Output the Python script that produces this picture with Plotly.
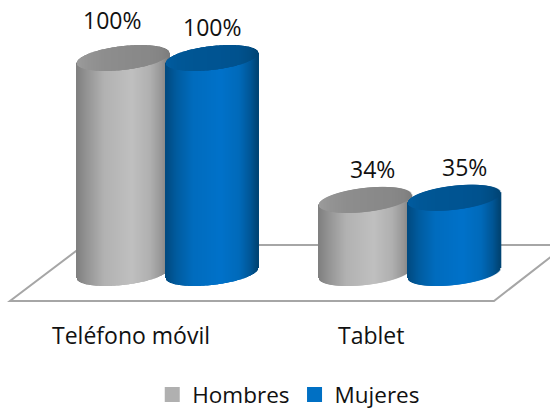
import numpy as np
import plotly.graph_objects as go

categories = ["Teléfono móvil", "Tablet"]
series_names = ["Hombres", "Mujeres"]
hombres = [100, 34]
mujeres = [100, 35]
value_labels = {"Hombres": ["100%", "34%"], "Mujeres": ["100%", "35%"]}

W, H = 550, 410
PX_X = 242.5        # pixels per category
PX_Y = 2.15         # pixels per percent
X0_PX, Y0_PX = 167.5, 273

def dx(px):
    return px / PX_X

def dy(px):
    return px / PX_Y

def xd(px):
    return (px - X0_PX) / PX_X

def yd(px):
    return (Y0_PX - px) / PX_Y

HALF = 46
OFFSET = {"Hombres": -44.5, "Mujeres": 44.5}
EB = 12.0    # ellipse minor semi-axis, px
TILT = 5.0   # rise of the ellipse's right end, px
STOPS = [-1, -0.75, -0.4, 0.2, 0.6, 0.85, 1]
BODY = {
    "Hombres": [(128, 128, 128), (150, 150, 150), (178, 178, 178), (192, 192, 192),
                (176, 176, 176), (150, 150, 150), (125, 125, 125)],
    "Mujeres": [(0, 74, 128), (0, 92, 160), (0, 108, 190), (0, 114, 202),
                (0, 106, 186), (0, 86, 150), (0, 68, 116)],
}
TOP = {
    "Hombres": [(156, 156, 156), (148, 148, 148), (142, 142, 142), (138, 138, 138),
                (136, 136, 136), (132, 132, 132), (126, 126, 126)],
    "Mujeres": [(0, 92, 160), (0, 88, 152), (0, 86, 148), (0, 84, 146),
                (0, 82, 142), (0, 76, 130), (0, 68, 116)],
}

def ramp(stops, u):
    a = np.array(stops, float)
    rgb = [np.interp(u, STOPS, a[:, i]) for i in range(3)]
    return [f"rgb({int(r)},{int(g)},{int(b)})" for r, g, b in zip(*rgb)]

u = np.linspace(-1, 1, 2 * HALF + 1)
arc = np.sqrt(np.clip(1 - u ** 2, 0, 1))
tilt = TILT * u

fig = go.Figure()
for name, values in zip(series_names, [hombres, mujeres]):
    for i, v in enumerate(values):
        cx = i + dx(OFFSET[name]) + dx(HALF) * u
        # body: bottom ellipse lower arc up to top ellipse lower arc
        base = dy(tilt - EB * arc)
        top_low = v + dy(tilt - EB * arc)
        top_high = v + dy(tilt + EB * arc)
        fig.add_bar(x=cx, y=top_low - base + dy(0.6), base=base, width=dx(1.6),
                    marker=dict(color=ramp(BODY[name], u), line_width=0),
                    showlegend=False, hoverinfo="skip")
        fig.add_bar(x=cx, y=top_high - top_low, base=top_low, width=dx(1.6),
                    marker=dict(color=ramp(TOP[name], u), line_width=0),
                    showlegend=False, hoverinfo="skip")

# legend entries
for name, col in zip(series_names, ["#b0b0b0", "#0070c4"]):
    fig.add_scatter(x=[None], y=[None], mode="markers", name=name,
                    marker=dict(symbol="square", size=15, color=col))

LABEL_SHIFT = {"Hombres": [(-55.5, 37), (-39.5, 31), ], "Mujeres": [(44.5, 31), (54, 31)]}
LABEL_SHIFT["Hombres"] = [(-55.5, 38), (-38, 31)]
for name, values in zip(series_names, [hombres, mujeres]):
    for i, v in enumerate(values):
        sx, sy = LABEL_SHIFT[name][i]
        fig.add_annotation(x=i + dx(sx), y=v + dy(sy), text=value_labels[name][i],
                           showarrow=False, font=dict(size=23, color="#111111"))

for i, c in enumerate(categories):
    fig.add_annotation(x=i + dx([-36.5, -39][i]), y=yd(335), text=c, showarrow=False,
                       font=dict(size=23, color="#111111"))

# floor of the 3D chart
floor = [(10, 301), (494, 301), (566, 245), (84, 245)]
path = "M " + " L ".join(f"{xd(a)},{yd(b)}" for a, b in floor) + " Z"
fig.add_shape(type="path", path=path, line=dict(color="#a6a6a6", width=2), layer="below")

fig.update_layout(
    width=W, height=H, margin=dict(l=0, r=0, t=0, b=0, autoexpand=False),
    paper_bgcolor="white", plot_bgcolor="white",
    barmode="overlay",
    font=dict(family="Open Sans, Noto Sans, sans-serif", size=22, color="#111111"),
    xaxis=dict(range=[xd(0), xd(W)], visible=False, fixedrange=True),
    yaxis=dict(range=[yd(H), yd(0)], visible=False, fixedrange=True),
    legend=dict(orientation="h", x=0.525, xanchor="center", y=0.037, yanchor="middle",
                font=dict(size=22.5), bgcolor="rgba(0,0,0,0)", itemclick=False,
                itemwidth=30),
    showlegend=True,
)
fig.write_html("out.html", config={"displayModeBar": False},
               post_script="document.body.style.margin='0';document.body.style.overflow='hidden';")
